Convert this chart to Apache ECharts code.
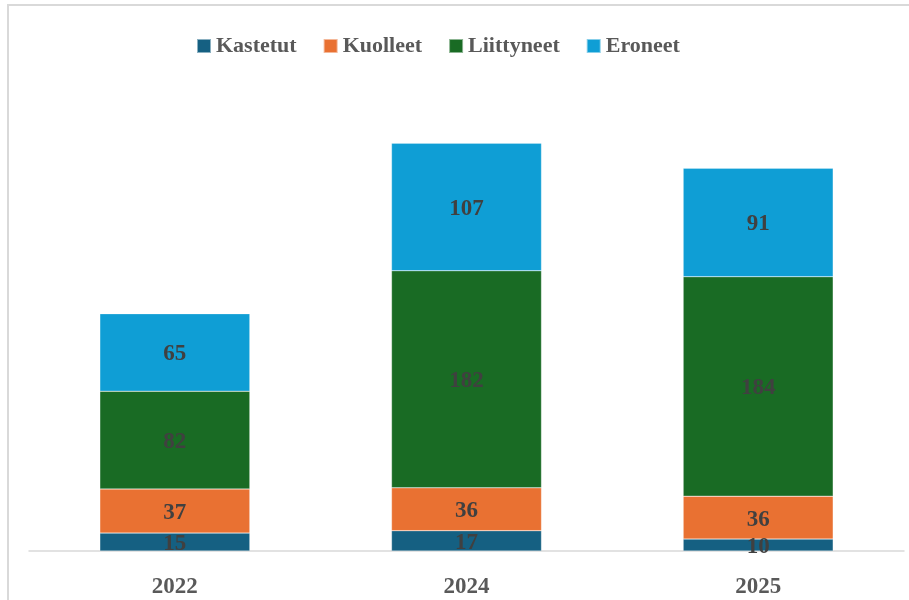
<!DOCTYPE html>
<html lang="fi">
<head>
    <meta charset="UTF-8">
    <title>Jäsenmuutokset</title>
    <script src="https://cdn.jsdelivr.net/npm/echarts@6/dist/echarts.min.js"></script>
    <style>
        html, body { margin: 0; padding: 0; overflow: hidden; background: #fff; }
        #frame { position: absolute; left: 7px; top: 4px; width: 960px; height: 660px; border: 2px solid #d9d9d9; box-sizing: border-box; }
        #main { position: absolute; left: 0; top: 0; width: 909px; height: 600px; }
    </style>
</head>
<body>
<div id="frame"></div>
<div id="main"></div>
</body>
</html>

<script type="text/javascript">

    var years = ['2022', '2024', '2025'];
    var kastetut = [15, 17, 10];
    var kuolleet = [37, 36, 36];
    var liittyneet = [82, 182, 184];
    var eroneet = [65, 107, 91];

    var fontName = '"Liberation Serif", "DejaVu Serif", serif';

    function makeSeries(name, data, color) {
        return {
            name: name,
            type: 'bar',
            stack: 'yht',
            barWidth: 150,
            data: data,
            itemStyle: { color: color, borderColor: 'rgba(255,255,255,0.5)', borderWidth: 0.5 },
            label: {
                show: true,
                position: 'inside',
                offset: [0, 2],
                color: '#404040',
                fontFamily: fontName,
                fontWeight: 'bold',
                fontSize: 23
            }
        };
    }

    var myChart = echarts.init(document.getElementById('main'));
    var option = {
        animation: false,
        legend: {
            left: 191,
            top: 30,
            itemWidth: 14,
            itemHeight: 14,
            itemGap: 26,
            icon: 'rect',
            textStyle: { color: '#595959', fontFamily: fontName, fontWeight: 'bold', fontSize: 22 }
        },
        grid: { left: 29, right: 5, top: 74, bottom: 49 },
        xAxis: {
            type: 'category',
            data: years,
            axisLine: { lineStyle: { color: '#d9d9d9', width: 1.5 } },
            axisTick: { show: false },
            axisLabel: { color: '#595959', fontFamily: fontName, fontWeight: 'bold', fontSize: 23, margin: 25 }
        },
        yAxis: {
            type: 'value',
            min: 0,
            max: 400,
            show: false,
            splitLine: { show: false }
        },
        series: [
            makeSeries('Kastetut', kastetut, '#156082'),
            makeSeries('Kuolleet', kuolleet, '#E97132'),
            makeSeries('Liittyneet', liittyneet, '#196B24'),
            makeSeries('Eroneet', eroneet, '#0F9ED5')
        ]
    };
    myChart.setOption(option);

</script>
